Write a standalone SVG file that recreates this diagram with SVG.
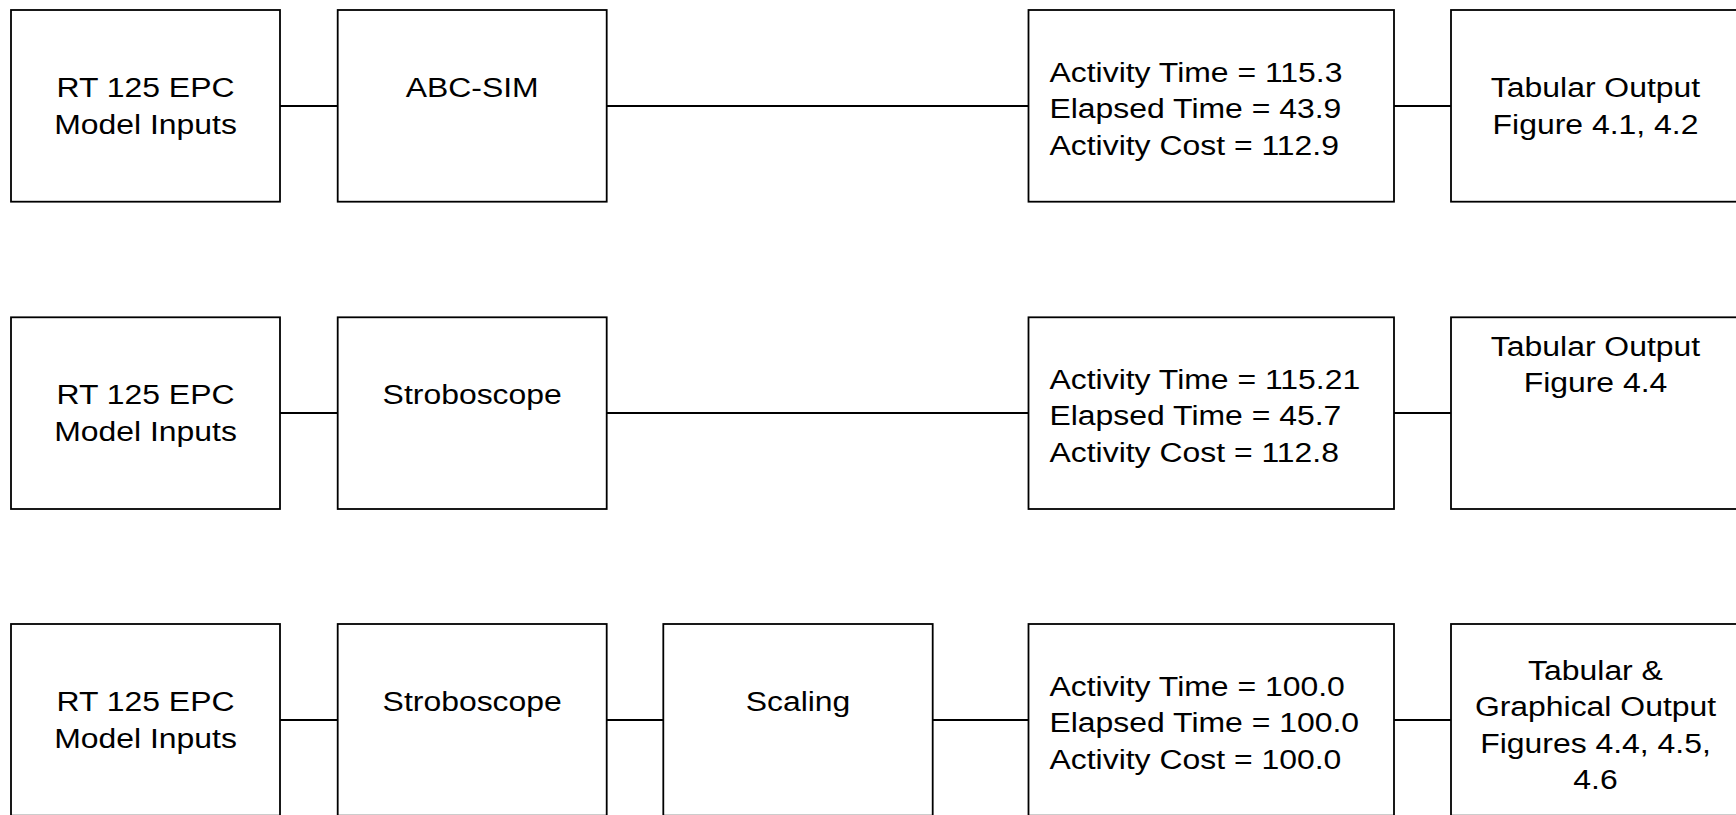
<svg xmlns="http://www.w3.org/2000/svg" width="1736" height="815" viewBox="0 0 1736 815">
<style>
.box{fill:#fff;stroke:#000;stroke-width:1.8}
.con line{stroke:#000;stroke-width:1.8}
.t{font-family:"Liberation Sans",Arial,Helvetica,sans-serif;font-size:28px;fill:#000}
.c{text-anchor:middle}
</style>
<rect width="1736" height="815" fill="#fff"/>
<g id="connectors" class="con">
<line x1="280" y1="106" x2="337.7" y2="106"/>
<line x1="606.7" y1="106" x2="1028.5" y2="106"/>
<line x1="1394" y1="106" x2="1451" y2="106"/>
<line x1="280" y1="413" x2="337.7" y2="413"/>
<line x1="606.7" y1="413" x2="1028.5" y2="413"/>
<line x1="1394" y1="413" x2="1451" y2="413"/>
<line x1="280" y1="720" x2="337.7" y2="720"/>
<line x1="606.7" y1="720" x2="663.3" y2="720"/>
<line x1="932.7" y1="720" x2="1028.5" y2="720"/>
<line x1="1394" y1="720" x2="1451" y2="720"/>
</g>
<g id="r1-inputs"><rect class="box" x="11" y="10" width="269" height="191.7"/>
<text class="t c" transform="translate(145.5,97) scale(1.14,1)"><tspan x="0" y="0">RT 125 EPC</tspan><tspan x="0" y="36.6">Model Inputs</tspan></text></g>
<g id="r1-abcsim"><rect class="box" x="337.7" y="10" width="269" height="191.7"/>
<text class="t c" transform="translate(472.2,97) scale(1.14,1)">ABC-SIM</text></g>
<g id="r1-results"><rect class="box" x="1028.5" y="10" width="365.5" height="191.7"/>
<text class="t" transform="translate(1049.5,81.5) scale(1.14,1)"><tspan x="0" y="0">Activity Time = 115.3</tspan><tspan x="0" y="36.6">Elapsed Time = 43.9</tspan><tspan x="0" y="73.2">Activity Cost = 112.9</tspan></text></g>
<g id="r1-output"><rect class="box" x="1451" y="10" width="300" height="191.7"/>
<text class="t c" transform="translate(1595.5,97) scale(1.14,1)"><tspan x="0" y="0">Tabular Output</tspan><tspan x="0" y="36.6">Figure 4.1, 4.2</tspan></text></g>

<g id="r2-inputs"><rect class="box" x="11" y="317.3" width="269" height="191.7"/>
<text class="t c" transform="translate(145.5,404.3) scale(1.14,1)"><tspan x="0" y="0">RT 125 EPC</tspan><tspan x="0" y="36.6">Model Inputs</tspan></text></g>
<g id="r2-strobo"><rect class="box" x="337.7" y="317.3" width="269" height="191.7"/>
<text class="t c" transform="translate(472.2,404.3) scale(1.14,1)">Stroboscope</text></g>
<g id="r2-results"><rect class="box" x="1028.5" y="317.3" width="365.5" height="191.7"/>
<text class="t" transform="translate(1049.5,388.5) scale(1.14,1)"><tspan x="0" y="0">Activity Time = 115.21</tspan><tspan x="0" y="36.6">Elapsed Time = 45.7</tspan><tspan x="0" y="73.2">Activity Cost = 112.8</tspan></text></g>
<g id="r2-output"><rect class="box" x="1451" y="317.3" width="300" height="191.7"/>
<text class="t c" transform="translate(1595.5,355.5) scale(1.14,1)"><tspan x="0" y="0">Tabular Output</tspan><tspan x="0" y="36.6">Figure 4.4</tspan></text></g>

<g id="r3-inputs"><rect class="box" x="11" y="624" width="269" height="191.7"/>
<text class="t c" transform="translate(145.5,711) scale(1.14,1)"><tspan x="0" y="0">RT 125 EPC</tspan><tspan x="0" y="36.6">Model Inputs</tspan></text></g>
<g id="r3-strobo"><rect class="box" x="337.7" y="624" width="269" height="191.7"/>
<text class="t c" transform="translate(472.2,711) scale(1.14,1)">Stroboscope</text></g>
<g id="r3-scaling"><rect class="box" x="663.3" y="624" width="269.4" height="191.7"/>
<text class="t c" transform="translate(798,711) scale(1.14,1)">Scaling</text></g>
<g id="r3-results"><rect class="box" x="1028.5" y="624" width="365.5" height="191.7"/>
<text class="t" transform="translate(1049.5,695.5) scale(1.14,1)"><tspan x="0" y="0">Activity Time = 100.0</tspan><tspan x="0" y="36.6">Elapsed Time = 100.0</tspan><tspan x="0" y="73.2">Activity Cost = 100.0</tspan></text></g>
<g id="r3-output"><rect class="box" x="1451" y="624" width="300" height="191.7"/>
<text class="t c" transform="translate(1595.5,679.5) scale(1.14,1)"><tspan x="0" y="0">Tabular &amp;</tspan><tspan x="0" y="36.6">Graphical Output</tspan><tspan x="0" y="73.2">Figures 4.4, 4.5,</tspan><tspan x="0" y="109.8">4.6</tspan></text></g>
</svg>
